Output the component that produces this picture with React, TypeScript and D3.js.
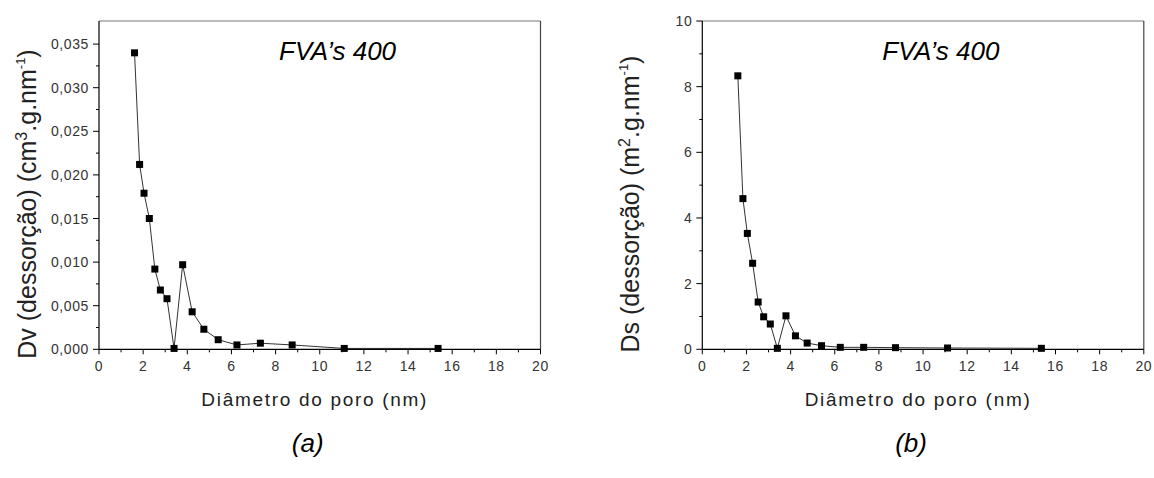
import * as d3 from 'd3'
import React from 'react'

// pore diameters (nm), shared by both panels
const diameters = [1.61, 1.84, 2.04, 2.28, 2.53, 2.78, 3.08, 3.4, 3.79, 4.22, 4.75, 5.4, 6.25, 7.31, 8.75, 11.11, 15.36]
// (a) volume distribution, cm3/g/nm
const dvValues = [0.034, 0.0212, 0.0179, 0.015, 0.0092, 0.0068, 0.0058, 0.0001, 0.0097, 0.0043, 0.0023, 0.0011, 0.0005, 0.0007, 0.0005, 0.0001, 0.0001]
// (b) surface distribution, m2/g/nm
const dsValues = [8.33, 4.59, 3.53, 2.62, 1.44, 0.99, 0.77, 0.03, 1.02, 0.41, 0.19, 0.11, 0.06, 0.06, 0.05, 0.04, 0.03]

const xTicks = [0, 2, 4, 6, 8, 10, 12, 14, 16, 18, 20]
const dvTicks = [0, 0.005, 0.01, 0.015, 0.02, 0.025, 0.03, 0.035]
const dsTicks = [0, 2, 4, 6, 8, 10]

const FONT = '"Liberation Sans", Arial, sans-serif'

type PanelProps = {
  left: number
  values: number[]
  yMax: number
  yTicks: number[]
  yFormat: (v: number) => string
  yLabel: React.ReactNode
  letter: string
}

function Panel({ left, values, yMax, yTicks, yFormat, yLabel, letter }: PanelProps) {
  const top = 21
  const bottom = 349.3
  const w = 441.5
  const x = d3.scaleLinear().domain([0, 20]).range([left, left + w])
  const y = d3.scaleLinear().domain([0, yMax]).range([bottom, top])

  const pts = diameters.map((d, i) => [d, values[i]] as [number, number])
  const line = d3
    .line<[number, number]>()
    .x(d => x(d[0]))
    .y(d => y(d[1]))

  const step = yTicks[1] - yTicks[0]
  const yMinor = d3.range(0, yTicks.length - 1).map(i => yTicks[i] + step / 2).filter(v => v <= yMax)
  const xMinor = d3.range(1, 20, 2)

  const cx = (x(0) + x(20)) / 2

  return (
    <g fontFamily={FONT}>
      {/* frame */}
      <line x1={x(0)} x2={x(20)} y1={top} y2={top} stroke="#777" strokeWidth={1} />
      <line x1={x(20)} x2={x(20)} y1={top} y2={bottom} stroke="#444" strokeWidth={1.2} />

      {/* data */}
      <path d={line(pts) || ''} fill="none" stroke="#333" strokeWidth={1} />
      {pts.map((p, i) => (
        <rect key={i} x={x(p[0]) - 3.5} y={y(p[1]) - 3.5} width={7} height={7} fill="#000" />
      ))}

      {/* axes */}
      <line x1={x(0)} x2={x(20)} y1={bottom} y2={bottom} stroke="#000" strokeWidth={1.2} />
      <line x1={x(0)} x2={x(0)} y1={top} y2={bottom} stroke="#000" strokeWidth={1.2} />

      {xTicks.map(t => (
        <g key={t}>
          <line x1={x(t)} x2={x(t)} y1={bottom} y2={bottom + 5} stroke="#000" />
          <text x={x(t)} y={370.5} textAnchor="middle" fontSize={14} letterSpacing={0.6} fill="#333">
            {t}
          </text>
        </g>
      ))}
      {xMinor.map(t => (
        <line key={t} x1={x(t)} x2={x(t)} y1={bottom} y2={bottom + 3} stroke="#000" />
      ))}

      {yTicks.map(t => (
        <g key={t}>
          <line x1={x(0) - 6} x2={x(0)} y1={y(t)} y2={y(t)} stroke="#000" />
          <text x={x(0) - 10} y={y(t) + 5} textAnchor="end" fontSize={14} letterSpacing={0.6} fill="#333">
            {yFormat(t)}
          </text>
        </g>
      ))}
      {yMinor.map(t => (
        <line key={t} x1={x(0) - 3} x2={x(0)} y1={y(t)} y2={y(t)} stroke="#000" />
      ))}

      <text x={x(0) + 180} y={60} fontSize={26} fontStyle="italic" fill="#000">
        FVA’s 400
      </text>

      <text x={cx - 5} y={406} textAnchor="middle" fontSize={19} letterSpacing={1.7} fill="#222">
        Diâmetro do poro (nm)
      </text>

      <text transform={`translate(${left - 63},204) rotate(-90)`} textAnchor="middle" fontSize={25} fill="#222">
        {yLabel}
      </text>

      <text x={cx - 12} y={452} textAnchor="middle" fontSize={26} fontStyle="italic" fill="#000">
        {letter}
      </text>
    </g>
  )
}

export default function App() {
  const comma = (digits: number) => (v: number) => d3.format(`.${digits}f`)(v).replace('.', ',')

  return (
    <svg width={1154} height={478} style={{ position: 'absolute', left: 0, top: 0, background: '#fff' }}>
      <rect width={1154} height={478} fill="#fff" />
      <Panel
        left={99}
        values={dvValues}
        yMax={0.03765}
        yTicks={dvTicks}
        yFormat={comma(3)}
        letter="(a)"
        yLabel={
          <>
            Dv (dessorção) (cm
            <tspan fontSize={16} dy={-9}>3</tspan>
            <tspan dy={9}>.g.nm</tspan>
            <tspan fontSize={13} dy={-11}>-1</tspan>
            <tspan dy={11}>)</tspan>
          </>
        }
      />
      <Panel
        left={702.3}
        values={dsValues}
        yMax={10}
        yTicks={dsTicks}
        yFormat={v => String(v)}
        letter="(b)"
        yLabel={
          <>
            Ds (dessorção) (m
            <tspan fontSize={16} dy={-9}>2</tspan>
            <tspan dy={9}>.g.nm</tspan>
            <tspan fontSize={13} dy={-11}>-1</tspan>
            <tspan dy={11}>)</tspan>
          </>
        }
      />
    </svg>
  )
}
